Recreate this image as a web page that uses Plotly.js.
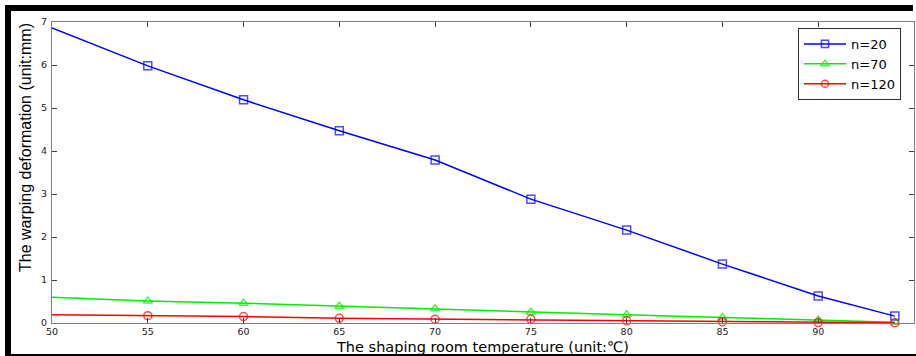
<!DOCTYPE html>
<html>
<head>
<meta charset="utf-8">
<script src="https://cdn.plot.ly/plotly-3.0.1.min.js"></script>
<style>html,body{margin:0;padding:0;background:#fff;}#chart{width:916px;height:356px;}</style>
</head>
<body>
<div id="chart"></div>
<script>
// Data
var temperature = [50, 55, 60, 65, 70, 75, 80, 85, 90, 94];
var warpN20  = [6.86, 5.98, 5.19, 4.47, 3.79, 2.88, 2.16, 1.37, 0.63, 0.16];
var warpN70  = [0.60, 0.51, 0.46, 0.39, 0.33, 0.25, 0.19, 0.13, 0.07, 0.02];
var warpN120 = [0.19, 0.17, 0.15, 0.11, 0.09, 0.085, 0.05, 0.03, 0.01, 0.005];
var seriesNames = ['n=20', 'n=70', 'n=120'];
var xTicks = [50, 55, 60, 65, 70, 75, 80, 85, 90, 95];
var yTicks = [0, 1, 2, 3, 4, 5, 6, 7];
var xTitle = 'The shaping room temperature (unit:\u2103)';
var yTitle = 'The warping deformation (unit:mm)';

var W = 916, H = 356;
var L = 52, R = 914, T = 22, B = 323;
function px(x){ return (x - L) / (R - L); }
function py(y){ return (B - y) / (B - T); }

function sizes(n){ var s = []; for (var i = 0; i < n; i++) s.push(i === 0 ? 0 : 8); return s; }

function mk(y, name, color, symbol){
  return {
    x: temperature, y: y, name: name, type: 'scatter', mode: 'lines+markers',
    line: {color: color, width: 1.5},
    marker: {symbol: symbol, size: sizes(temperature.length), color: color, line: {color: color, width: 1.5}},
    cliponaxis: false
  };
}

var data = [
  mk(warpN20, seriesNames[0], '#0000ff', 'square-open'),
  mk(warpN70, seriesNames[1], '#00ee00', 'triangle-up-open'),
  mk(warpN120, seriesNames[2], '#ff0000', 'circle-open')
];

var FONT = 'DejaVu Sans, Verdana, sans-serif';
var axisCommon = {
  showgrid: false, zeroline: false, showline: true, linecolor: '#808080', linewidth: 1,
  mirror: 'ticks', ticks: 'inside', ticklen: 5, tickcolor: '#404040', tickwidth: 1,
  tickfont: {family: FONT, size: 9.5, color: '#222'}
};

var layout = {
  width: W, height: H,
  margin: {l: L, r: W - R, t: T, b: H - B, pad: 0},
  paper_bgcolor: '#ffffff', plot_bgcolor: '#ffffff',
  showlegend: true,
  xaxis: Object.assign({}, axisCommon, {range: [50, 95], tickvals: xTicks, ticktext: xTicks.map(String), ticklabelstandoff: 0}),
  yaxis: Object.assign({}, axisCommon, {range: [0, 7], tickvals: yTicks, ticktext: yTicks.map(String), ticklabelstandoff: 2}),
  legend: {
    x: px(798), y: py(28), xanchor: 'left', yanchor: 'top',
    bgcolor: '#ffffff', bordercolor: '#303030', borderwidth: 1,
    font: {family: FONT, size: 13, color: '#000'},
    tracegroupgap: 0, itemwidth: 42
  },
  annotations: [
    {text: xTitle, xref: 'paper', yref: 'paper', x: px(482), y: py(346.5), xanchor: 'center', yanchor: 'middle',
     showarrow: false, font: {family: FONT, size: 14.5, color: '#000'}},
    {text: yTitle, xref: 'paper', yref: 'paper', x: px(25), y: py(148), xanchor: 'center', yanchor: 'middle',
     textangle: -90, showarrow: false, font: {family: 'Liberation Sans, Arial, sans-serif', size: 16, color: '#000'}}
  ],
  shapes: [
    {type: 'rect', xref: 'paper', yref: 'paper', x0: px(5), x1: px(11), y0: py(356), y1: py(5), fillcolor: '#000', line: {width: 0}, layer: 'above'},
    {type: 'rect', xref: 'paper', yref: 'paper', x0: px(5), x1: px(913), y0: py(11), y1: py(5), fillcolor: '#000', line: {width: 0}, layer: 'above'},
    {type: 'rect', xref: 'paper', yref: 'paper', x0: px(5), x1: px(916), y0: py(356), y1: py(354), fillcolor: '#000', line: {width: 0}, layer: 'above'}
  ]
};

Plotly.newPlot('chart', data, layout, {displayModeBar: false, staticPlot: true});
</script>
</body>
</html>
